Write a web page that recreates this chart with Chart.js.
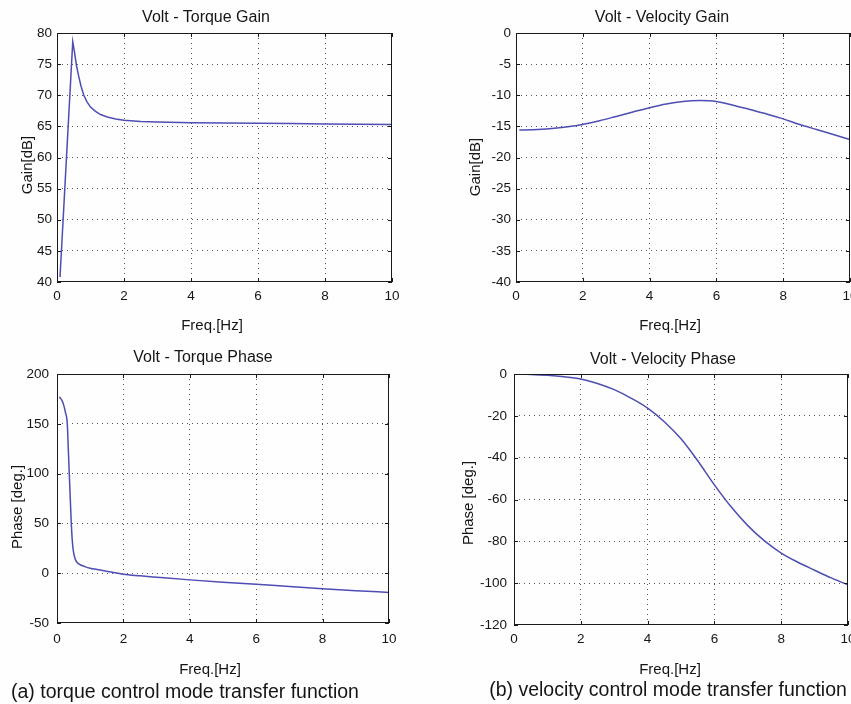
<!DOCTYPE html>
<html><head><meta charset="utf-8">
<script src="https://cdn.jsdelivr.net/npm/chart.js@4.4.1/dist/chart.umd.min.js"></script>
<style>
html,body{margin:0;padding:0;width:851px;height:704px;overflow:hidden;background:#fefefe;font-family:"Liberation Sans",Arial,sans-serif;color:#151515;}
canvas{position:absolute;}
.t{position:absolute;white-space:nowrap;transform:translate(-50%,-50%);line-height:1;}
.yt{transform:translate(-50%,-50%) rotate(-90deg);}
.ti{font-size:16px;}
.ax{font-size:15px;}
.cap{font-size:19.5px;}
</style></head><body>
<canvas id="c1" width="420" height="340" style="left:0;top:0"></canvas>
<canvas id="c2" width="450" height="340" style="left:420px;top:0"></canvas>
<canvas id="c3" width="420" height="364" style="left:0;top:340px"></canvas>
<canvas id="c4" width="450" height="364" style="left:420px;top:340px"></canvas>

<div class="t ti" style="left:206px;top:17px">Volt - Torque Gain</div>
<div class="t ax yt" style="left:26px;top:165px">Gain[dB]</div>
<div class="t ax" style="left:212px;top:324px">Freq.[Hz]</div>

<div class="t ti" style="left:662px;top:17px">Volt - Velocity Gain</div>
<div class="t ax yt" style="left:474px;top:167px">Gain[dB]</div>
<div class="t ax" style="left:670px;top:324px">Freq.[Hz]</div>

<div class="t ti" style="left:203px;top:357px">Volt - Torque Phase</div>
<div class="t ax yt" style="left:16px;top:507px">Phase [deg.]</div>
<div class="t ax" style="left:210px;top:668px">Freq.[Hz]</div>
<div class="t cap" style="left:185px;top:692px">(a) torque control mode transfer function</div>

<div class="t ti" style="left:663px;top:359px">Volt - Velocity Phase</div>
<div class="t ax yt" style="left:467px;top:503px">Phase [deg.]</div>
<div class="t ax" style="left:670px;top:668px">Freq.[Hz]</div>
<div class="t cap" style="left:668px;top:690px">(b) velocity control mode transfer function</div>

<script>
// ---- data ----
const freqTicks = [0, 2, 4, 6, 8, 10];

const torqueGainFreq = [0.09, 0.47, 0.52, 0.58, 0.65, 0.72, 0.8, 0.9, 1.0, 1.15, 1.3, 1.5, 1.75, 2.0, 2.5, 3.0, 4.0, 5.0, 6.0, 7.0, 8.0, 9.0, 10.0];
const torqueGainDb   = [40.8, 78.6, 77.0, 74.8, 73.0, 71.4, 70.0, 68.9, 68.1, 67.4, 66.9, 66.5, 66.2, 66.0, 65.8, 65.7, 65.6, 65.55, 65.5, 65.45, 65.4, 65.35, 65.3];

const velGainFreq = [0.1, 0.5, 1, 1.5, 2, 2.5, 3, 3.5, 4, 4.5, 5, 5.5, 6, 6.5, 7, 7.5, 8, 8.5, 9, 9.5, 10];
const velGainDb   = [-15.6, -15.55, -15.4, -15.1, -14.7, -14.1, -13.4, -12.7, -12.0, -11.4, -11.0, -10.85, -11.0, -11.6, -12.3, -13.0, -13.8, -14.7, -15.5, -16.3, -17.1];

const torquePhaseFreq = [0.07, 0.14, 0.2, 0.25, 0.31, 0.34, 0.37, 0.40, 0.43, 0.46, 0.49, 0.54, 0.6, 0.7, 0.84, 1.0, 1.2, 1.45, 1.7, 2.0, 2.5, 3, 4, 5, 6, 7, 8, 9, 10];
const torquePhaseDeg  = [177, 174, 169, 162, 150, 125, 100, 75, 50, 33, 23, 15, 11, 8.5, 6.6, 5, 3.8, 2.3, 0.8, -1, -2.6, -4, -6.7, -9, -11, -13.3, -15.5, -17.5, -19.3];

const velPhaseFreq = [0, 0.5, 1, 1.5, 2, 2.5, 3, 3.5, 4, 4.5, 5, 5.5, 6, 6.5, 7, 7.5, 8, 8.5, 9, 9.5, 10];
const velPhaseDeg  = [0, -0.2, -0.6, -1.3, -2.4, -4.5, -7.5, -11.5, -16.3, -22.8, -31.0, -41.5, -53.0, -63.5, -72.5, -79.8, -85.6, -90.0, -93.8, -97.5, -100.8];

const torqueGainTicks  = [40, 45, 50, 55, 60, 65, 70, 75, 80];
const velGainTicks     = [-40, -35, -30, -25, -20, -15, -10, -5, 0];
const torquePhaseTicks = [-50, 0, 50, 100, 150, 200];
const velPhaseTicks    = [-120, -100, -80, -60, -40, -20, 0];

// ---- styling / plugin ----
const LINE = '#4d4db4';
const framePlugin = {
  id: 'frame',
  afterDatasetsDraw(chart) {
    const {ctx, chartArea: a, scales: {x, y}} = chart;
    ctx.save();
    ctx.strokeStyle = '#1a1a1a';
    ctx.lineWidth = 1;
    ctx.setLineDash([]);
    ctx.strokeRect(Math.round(a.left) + 0.5, Math.round(a.top) + 0.5, Math.round(a.right - a.left) - 1, Math.round(a.bottom - a.top) - 1);
    const L = 4;
    ctx.beginPath();
    x.ticks.forEach(t => {
      const p = Math.round(x.getPixelForValue(t.value)) + 0.5;
      ctx.moveTo(p, a.bottom); ctx.lineTo(p, a.bottom - L);
      ctx.moveTo(p, a.top); ctx.lineTo(p, a.top + L);
    });
    y.ticks.forEach(t => {
      const p = Math.round(y.getPixelForValue(t.value)) + 0.5;
      ctx.moveTo(a.left, p); ctx.lineTo(a.left + L, p);
      ctx.moveTo(a.right, p); ctx.lineTo(a.right - L, p);
    });
    ctx.stroke();
    ctx.restore();
  }
};

function makeChart(id, xs, ys, yTicks, geo, smooth) {
  const pts = xs.map((v, i) => ({x: v, y: ys[i]}));
  const gridCol = (ctx) => {
    const n = ctx.scale.ticks.length;
    return (ctx.index === 0 || ctx.index === n - 1) ? 'rgba(0,0,0,0)' : '#555';
  };
  const ds = {data: pts, showLine: true, borderColor: LINE, borderWidth: 1.5, pointRadius: 0, tension: 0, fill: false};
  if (smooth) ds.cubicInterpolationMode = 'monotone';
  return new Chart(document.getElementById(id), {
    type: 'scatter',
    data: {datasets: [ds]},
    options: {
      responsive: false, animation: false, devicePixelRatio: 1,
      layout: {padding: {top: geo.top, right: geo.right, left: 0, bottom: 0}},
      plugins: {legend: {display: false}, tooltip: {enabled: false}, title: {display: false}},
      scales: {
        x: {
          type: 'linear', min: 0, max: 10,
          afterBuildTicks: s => { s.ticks = freqTicks.map(v => ({value: v})); },
          afterFit: s => { s.height = geo.xh; },
          ticks: {color: '#151515', font: {family: 'Liberation Sans', size: 13.5}, padding: geo.xpad, maxRotation: 0, autoSkip: false},
          grid: {color: gridCol, lineWidth: 1, drawTicks: false, borderDash: [1, 4]},
          border: {display: false, dash: [1, 4]}
        },
        y: {
          type: 'linear', min: yTicks[0], max: yTicks[yTicks.length - 1],
          afterBuildTicks: s => { s.ticks = yTicks.map(v => ({value: v})); },
          afterFit: s => { s.width = geo.yw; },
          ticks: {color: '#151515', font: {family: 'Liberation Sans', size: 13.5}, padding: geo.ypad, autoSkip: false},
          grid: {color: gridCol, lineWidth: 1, drawTicks: false, borderDash: [1, 4]},
          border: {display: false, dash: [1, 4]}
        }
      }
    },
    plugins: [framePlugin]
  });
}

makeChart('c1', torqueGainFreq, torqueGainDb, torqueGainTicks, {top: 33, right: 28, xh: 58, yw: 57, xpad: 6, ypad: 5}, false);
makeChart('c2', velGainFreq, velGainDb, velGainTicks, {top: 33, right: 20, xh: 58, yw: 96, xpad: 6, ypad: 5}, true);
makeChart('c3', torquePhaseFreq, torquePhaseDeg, torquePhaseTicks, {top: 34, right: 31, xh: 81, yw: 57, xpad: 8, ypad: 8}, true);
makeChart('c4', velPhaseFreq, velPhaseDeg, velPhaseTicks, {top: 34, right: 22, xh: 79, yw: 94, xpad: 6, ypad: 7}, true);
</script>
</body></html>
